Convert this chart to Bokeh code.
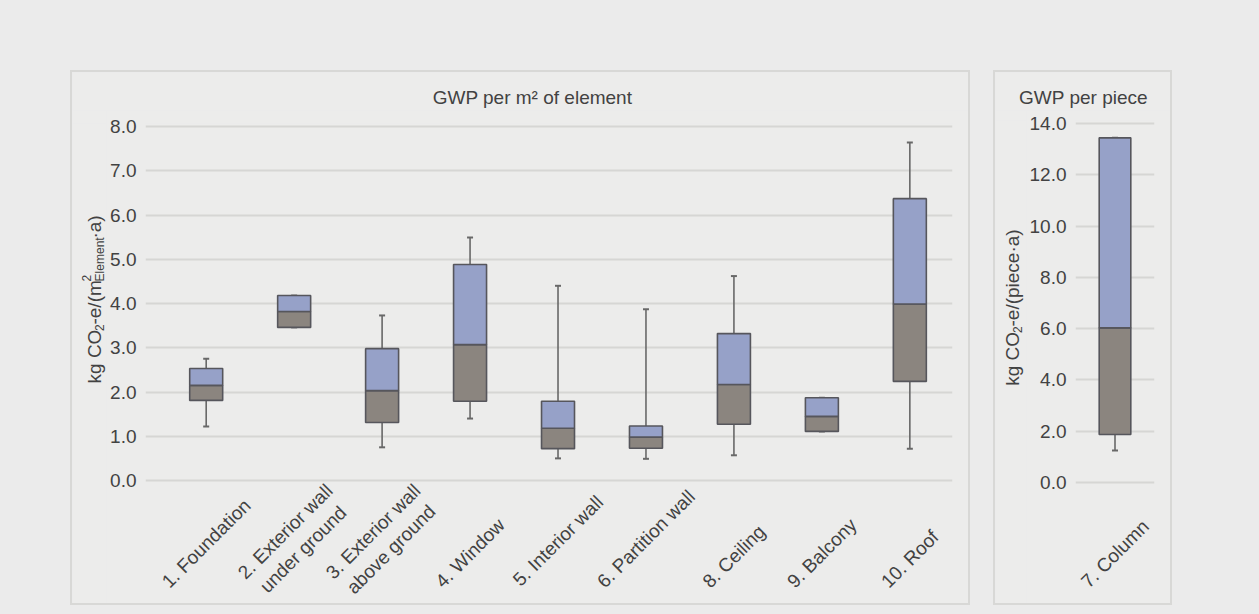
import math
from bokeh.plotting import figure
from bokeh.models import Range1d, FixedTicker, PrintfTickFormatter, Spacer, ColumnDataSource
from bokeh.layouts import row, column
from bokeh.core.properties import value
from bokeh.embed import file_html
from bokeh.resources import INLINE

# ---------------- data ----------------
categories = ["1. Foundation", "2. Exterior wall\nunder ground", "3. Exterior wall\nabove ground",
              "4. Window", "5. Interior wall", "6. Partition wall", "8. Ceiling", "9. Balcony", "10. Roof"]
whisker_low = [1.22, 3.46, 0.75, 1.40, 0.50, 0.49, 0.57, 1.11, 0.72]
q1 = [1.81, 3.46, 1.31, 1.79, 0.72, 0.73, 1.27, 1.11, 2.24]
median = [2.15, 3.82, 2.03, 3.07, 1.18, 0.98, 2.17, 1.45, 3.99]
q3 = [2.53, 4.18, 2.98, 4.88, 1.79, 1.23, 3.32, 1.87, 6.37]
whisker_high = [2.75, 4.18, 3.73, 5.49, 4.40, 3.87, 4.62, 1.87, 7.64]
y_ticks_left = [0.0, 1.0, 2.0, 3.0, 4.0, 5.0, 6.0, 7.0, 8.0]

column_category = ["7. Column"]
column_low = [1.25]
column_q1 = [1.87]
column_median = [6.03]
column_q3 = [13.44]
column_high = [13.44]
y_ticks_right = [0.0, 2.0, 4.0, 6.0, 8.0, 10.0, 12.0, 14.0]

title_left = "GWP per m² of element"
title_right = "GWP per piece"
ylabel_left = [("kg CO", "main"), ("2", "sub"), ("-e/(m", "main"), ("2", "sup"), ("Element", "sub"), ("·a)", "main")]
ylabel_right = [("kg CO", "main"), ("2", "sub"), ("-e/(piece·a)", "main")]

# ---------------- style ----------------
PAGE = "#ebebeb"
PANEL = "#ececeb"
BLUE = "#96a1c8"
GRAY = "#8b857f"
EDGE = "#56565c"
WHISK = "#686868"
GRID = "#d6d6d4"
TXT = "#424242"
FONT = "Liberation Sans"
FS = 19
FS_SMALL = 12
OUTLINE = {"outline": "2px solid #d8d8d6"}

CW = {' ': 278, '.': 278, '-': 333, '/': 278, '(': 333, ')': 333, '·': 278,
      'a': 556, 'b': 556, 'c': 500, 'd': 556, 'e': 556, 'f': 278, 'g': 556, 'h': 556, 'i': 222,
      'k': 500, 'l': 222, 'm': 833, 'n': 556, 'o': 556, 'p': 556, 'r': 333, 't': 278, 'u': 556,
      'v': 500, 'w': 722, 'x': 500, 'y': 500, 'B': 667, 'C': 722, 'E': 667, 'F': 611, 'G': 778,
      'O': 778, 'P': 667, 'R': 722, 'W': 944}


def text_w(s, size):
    return sum(CW.get(c, 556) for c in s) / 1000.0 * size


def blank(x0, x1, y0, y1):
    """figure whose frame fills it; x data = page x, y data = -page y"""
    f = figure(width=int(round(x1 - x0)), height=int(round(y1 - y0)),
               x_range=Range1d(x0, x1), y_range=Range1d(-y1, -y0),
               output_backend="svg", toolbar_location=None,
               x_axis_location=None, y_axis_location=None,
               min_border=0, background_fill_color=PANEL, border_fill_color=PANEL,
               outline_line_color=None)
    f.grid.visible = False
    return f


def draw_boxes(p, xs, lo, a, m, b, hi, w):
    src = ColumnDataSource(dict(x=xs, lo=lo, q1=a, med=m, q3=b, hi=hi))
    p.segment(x0="x", y0="q3", x1="x", y1="hi", source=src, line_color=WHISK, line_width=1.6)
    p.segment(x0="x", y0="lo", x1="x", y1="q1", source=src, line_color=WHISK, line_width=1.6)
    p.scatter(x="x", y="hi", marker="dash", size=6, line_width=2, line_color=WHISK, source=src)
    p.scatter(x="x", y="lo", marker="dash", size=6, line_width=2, line_color=WHISK, source=src)
    p.vbar(x="x", width=w, bottom="q1", top="med", source=src,
           fill_color=GRAY, line_color=EDGE, line_width=1.6)
    p.vbar(x="x", width=w, bottom="med", top="q3", source=src,
           fill_color=BLUE, line_color=EDGE, line_width=1.6)


def build_panel(px0, px1, py0, py1, split_x, top_y, fl, fr, v0px, vtop_px, vtop,
                xr, ticks, cats, lo, a, m, b, hi, bw, title, title_cx, ylab, ylab_base, ylab_start):
    # main frame reaches the bottom of the panel so that category labels live inside it
    ppu_y = (v0px - vtop_px) / vtop
    ft, fb = vtop_px - 3, py1
    yr = (-(fb - v0px) / ppu_y, vtop + (vtop_px - ft) / ppu_y)

    def dy(py):
        return (v0px - py) / ppu_y

    # title strip
    t = blank(px0, px1, py0, top_y)
    t.text(x=[title_cx], y=[-97], text=[title], text_align="center", text_baseline="middle",
           text_font=value(FONT), text_font_size=value(f"{FS}px"), text_color=TXT)

    # y-label strip
    yl = blank(px0, split_x, top_y, py1)
    y = ylab_start
    for txt, kind in ylab:
        size = FS if kind == "main" else FS_SMALL
        off = {"main": 0, "sub": 5, "sup": -8}[kind]
        yl.text(x=[ylab_base + off], y=[-y], text=[txt], angle=math.pi / 2,
                text_align="left", text_baseline="alphabetic",
                text_font=value(FONT), text_font_size=value(f"{size}px"), text_color=TXT)
        if kind != "sup":
            y -= text_w(txt, size)

    # main chart
    p = figure(width=int(px1 - split_x), height=int(py1 - top_y),
               x_range=Range1d(*xr), y_range=Range1d(*yr),
               output_backend="svg", toolbar_location=None, x_axis_location=None,
               min_border_left=int(fl - split_x), min_border_right=int(px1 - fr),
               min_border_top=int(ft - top_y), min_border_bottom=0,
               background_fill_color=PANEL, border_fill_color=PANEL, outline_line_color=None)
    for g in p.xgrid:
        g.visible = False
    p.ygrid.ticker = FixedTicker(ticks=ticks)
    p.ygrid.grid_line_color = GRID
    p.ygrid.grid_line_width = 2
    ax = p.yaxis[0]
    ax.ticker = FixedTicker(ticks=ticks)
    ax.formatter = PrintfTickFormatter(format="%.1f")
    ax.axis_line_color = None
    ax.major_tick_line_color = None
    ax.minor_tick_line_color = None
    ax.major_tick_out = 0
    ax.major_tick_in = 0
    ax.major_label_standoff = 9
    ax.major_label_text_font = FONT
    ax.major_label_text_font_size = f"{FS}px"
    ax.major_label_text_color = TXT
    xs = list(range(1, len(cats) + 1))
    draw_boxes(p, xs, lo, a, m, b, hi, bw)

    # category labels, rotated 45 degrees, centred under each box, bottoms aligned
    cy = []
    for c in cats:
        L = max(text_w(s, FS) for s in c.split("\n"))
        cy.append(dy(588 - (L + 0.6 * FS) / (2 * math.sqrt(2))))
    p.text(x=xs, y=cy, text=cats, angle=math.pi / 4, text_align="center", text_baseline="middle",
           text_font=value(FONT), text_font_size=value(f"{FS}px"), text_color=TXT)

    return column(t, row(yl, p), styles=OUTLINE)


left = build_panel(72, 968, 72, 603, 106, 110, 145, 952, 480, 126, 8.0,
                   (0.31, 9.485), y_ticks_left, categories, whisker_low, q1, median, q3, whisker_high,
                   0.375, title_left, 532, ylabel_left, 94, 377)

rtotal = sum(text_w(t_, FS if k == "main" else FS_SMALL) for t_, k in ylabel_right)
right = build_panel(995, 1170, 72, 603, 1026, 110, 1072, 1154, 482, 123, 14.0,
                    (0.5, 1.5), y_ticks_right, column_category, column_low, column_q1, column_median,
                    column_q3, column_high, 0.4, title_right, 1083, ylabel_right, 1012,
                    (123 + 482) / 2 + rtotal / 2)

root = column(Spacer(width=1259, height=72),
              row(Spacer(width=72, height=531), left, Spacer(width=27, height=531), right),
              width=1259, height=614,
              styles={"position": "fixed", "left": "0px", "top": "0px", "background-color": PAGE})

open("out.html", "w").write(file_html(root, INLINE))
